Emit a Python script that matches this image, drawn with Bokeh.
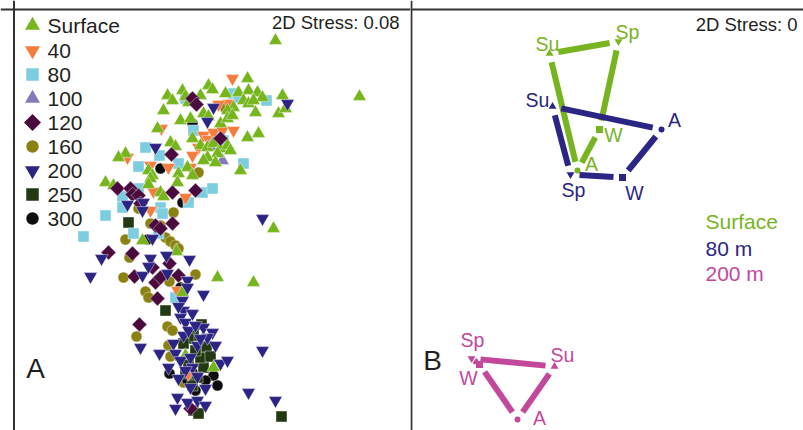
import numpy as np
from bokeh.plotting import figure
from bokeh.layouts import row
from bokeh.models import Range1d, Span, Label
from bokeh.core.properties import value
from bokeh.embed import file_html
from bokeh.resources import INLINE

# ---------------- Panel A data: NMDS coordinates of samples by depth ----------------
surface_x = [275, 359, 247, 208, 212, 167, 182, 185, 200, 225, 238, 248, 257, 262, 243, 248, 253, 233, 227, 282,
             278, 285, 255, 163, 180, 190, 203, 208, 220, 227, 232, 157, 247, 258, 170, 175, 192, 200, 207, 213,
             220, 227, 230, 217, 207, 203, 215, 240, 187, 192, 148, 152, 125, 118, 105, 113, 160, 163, 178, 177,
             150, 148, 273, 142, 176, 217, 253, 182, 213, 185, 172, 188]
surface_y = [40, 96, 78, 85, 89, 95, 90, 96, 95, 93, 92, 90, 92, 97, 100, 103, 100, 107, 110, 95,
             113, 108, 112, 110, 120, 118, 113, 116, 123, 118, 115, 128, 137, 133, 142, 146, 138, 145, 147, 143,
             148, 145, 150, 153, 157, 160, 162, 170, 167, 175, 170, 175, 153, 157, 182, 185, 192, 196, 173, 182,
             178, 184, 228, 240, 251, 277, 282, 292, 367, 355, 100, 102]

d40_x = [232, 228, 218, 161, 203, 208, 213, 222, 233, 198, 192, 150, 168, 190, 153, 150, 127, 185, 177, 188]
d40_y = [78, 103, 104, 128, 135, 139, 132, 130, 130, 147, 155, 165, 167, 167, 191, 210, 157, 197, 290, 373]

d80_x = [233, 266, 185, 238, 193, 145, 159, 138, 178, 243, 138, 122, 122, 160, 162, 188, 202, 212, 105, 133,
         158, 83, 223, 175]
d80_y = [93, 100, 98, 97, 130, 147, 155, 166, 163, 163, 188, 196, 207, 207, 213, 202, 192, 188, 215, 233,
         233, 236, 140, 297]

d100_x = [222, 210]
d100_y = [160, 146]

d120_x = [192, 196, 220, 171, 117, 130, 132, 138, 172, 195, 140, 172, 155, 160, 108, 132, 169, 134, 155, 160,
          178, 157, 139, 152, 190]
d120_y = [98, 104, 138, 154, 188, 188, 194, 195, 192, 190, 203, 223, 225, 228, 252, 253, 263, 276, 282, 277,
          275, 298, 324, 267, 408]

d160_x = [225, 198, 173, 138, 150, 125, 165, 170, 175, 178, 129, 123, 145, 148, 169, 195, 167, 172, 136, 168,
          170, 183, 160]
d160_y = [108, 172, 212, 208, 223, 239, 237, 241, 245, 248, 257, 277, 291, 297, 281, 274, 326, 330, 336, 345,
          356, 382, 225]

d200_x = [213, 207, 287, 155, 262, 127, 143, 142, 152, 101, 150, 166, 189, 90, 142, 148, 167, 187, 187, 203,
          182, 183, 180, 185, 192, 178, 140, 159, 168, 173, 183, 188, 203, 212, 215, 207, 197, 175, 180, 190,
          192, 220, 227, 197, 190, 205, 177, 175, 187, 197, 205, 248, 275, 262, 185, 178, 200, 195]
d200_y = [107, 121, 103, 147, 218, 204, 202, 210, 238, 258, 258, 255, 259, 276, 275, 266, 273, 280, 287, 294,
          300, 310, 317, 322, 313, 306, 347, 353, 367, 343, 335, 330, 327, 332, 345, 337, 345, 353, 360, 357,
          367, 363, 360, 376, 387, 388, 397, 408, 402, 400, 405, 392, 400, 350, 370, 378, 338, 325]

d250_x = [128, 165, 201, 193, 188, 183, 203, 197, 192, 193, 198, 281, 185, 200, 206, 210, 195, 188]
d250_y = [222, 310, 324, 335, 338, 343, 367, 377, 385, 410, 413, 416, 373, 357, 346, 356, 350, 362]

d300_x = [192, 160, 182, 147, 203, 169, 213, 217, 195, 205, 187, 180, 192, 200]
d300_y = [123, 168, 202, 239, 350, 373, 375, 385, 390, 380, 380, 287, 372, 362]

depth_labels = ["Surface", "40", "80", "100", "120", "160", "200", "250", "300"]
stress_a = "2D Stress: 0.08"

# ---------------- Panel B data: seasonal centroids per depth ----------------
seasons = ["Su", "A", "W", "Sp"]          # seasonal cycle order
surf_b_x = [549, 577, 599, 618]
surf_b_y = [53, 170, 129, 41]
m80_b_x = [552, 661, 622, 570]
m80_b_y = [106, 129, 177, 174]
m200_b_x = [554, 517, 479, 471]
m200_b_y = [366, 419, 364, 358]
depth_b_labels = ["Surface", "80 m", "200 m"]
stress_b = "2D Stress: 0"

# ---------------- styles ----------------
FONT = "Liberation Sans"
TXT = "#231f20"
style = {
    "Surface": dict(marker="triangle", color="#76b51b", size=13.5, angle=0),
    "40": dict(marker="inverted_triangle", color="#f47c3c", size=13.5, angle=0),
    "80": dict(marker="square", color="#7dcde0", size=11, angle=0),
    "100": dict(marker="triangle", color="#8579bc", size=13.5, angle=0),
    "120": dict(marker="square", color="#4b0a3e", size=10.5, angle=np.pi / 4),
    "160": dict(marker="circle", color="#8b8112", size=11, angle=0),
    "200": dict(marker="inverted_triangle", color="#2c2484", size=13.5, angle=0),
    "250": dict(marker="square", color="#223912", size=11, angle=0),
    "300": dict(marker="circle", color="#0d0d0d", size=11, angle=0),
}
data_a = {
    "Surface": (surface_x, surface_y), "40": (d40_x, d40_y), "80": (d80_x, d80_y),
    "100": (d100_x, d100_y), "120": (d120_x, d120_y), "160": (d160_x, d160_y),
    "200": (d200_x, d200_y), "250": (d250_x, d250_y), "300": (d300_x, d300_y),
}
draw_order = ["160", "300", "250", "80", "40", "100", "Surface", "120", "200"]

H = 430
pA = figure(width=410, height=H, x_range=Range1d(0, 410), y_range=Range1d(430, 0),
            output_backend="svg", toolbar_location=None, x_axis_location=None, y_axis_location=None,
            min_border=0, outline_line_color=None)
pB = figure(width=393, height=H, x_range=Range1d(410, 803), y_range=Range1d(430, 0),
            output_backend="svg", toolbar_location=None, x_axis_location=None, y_axis_location=None,
            min_border=0, outline_line_color=None)
for p in (pA, pB):
    p.grid.visible = False
    p.background_fill_color = "white"
    p.border_fill_color = "white"

# frame lines
pA.add_layout(Span(location=13.5, dimension="height", line_color="#333333", line_width=2))
pA.add_layout(Span(location=9, dimension="width", line_color="#333333", line_width=2))
pB.add_layout(Span(location=9, dimension="width", line_color="#333333", line_width=2))
pB.add_layout(Span(location=410.9, dimension="height", line_color="#333333", line_width=2))

# scatter
for g in draw_order:
    s = style[g]
    xs, ys = data_a[g]
    pA.scatter(xs, ys, marker=s["marker"], size=s["size"], angle=s["angle"],
               fill_color=s["color"], line_color="white", line_width=0.6, line_alpha=0.7)

# legend A
leg_x = 32
leg_y = [25] + [50 + 24 * i for i in range(len(depth_labels) - 1)]
for lab, ly in zip(depth_labels, leg_y):
    s = style[lab]
    pA.scatter([leg_x], [ly], marker=s["marker"], size=s["size"] + 1.5, angle=s["angle"],
               fill_color=s["color"], line_color=None)
pA.text(x=[leg_x + 15] * len(depth_labels), y=leg_y, text=depth_labels,
        text_font=value(FONT), text_font_size=value("21px"), text_color=TXT,
        text_align="left", text_baseline="middle")

pA.add_layout(Label(x=399, y=22, text=stress_a, text_align="right", text_baseline="middle",
                    text_font=FONT, text_font_size="18.5px", text_color=TXT))
pA.add_layout(Label(x=35, y=368, text="A", text_align="center", text_baseline="middle",
                    text_font=FONT, text_font_size="28px", text_color=TXT))

# Panel B
b_sets = [
    (surf_b_x, surf_b_y, "#77b41f", [(-2, -10), (14, -7), (14, 5), (9, -10)]),
    (m80_b_x, m80_b_y, "#2b2684", [(-15, -7), (13, -10), (12, 15), (3, 15)]),
    (m200_b_x, m200_b_y, "#c2489b", [(8, -12), (22, -2), (-11, 13), (1, -19)]),
]
season_marker = {"Su": ("triangle", 8), "A": ("circle", 6), "W": ("square", 7), "Sp": ("inverted_triangle", 8)}

for xs, ys, col, offs in b_sets:
    xs = np.asarray(xs, float)
    ys = np.asarray(ys, float)
    n = len(xs)
    x0, y0, x1, y1 = [], [], [], []
    for i in range(n):
        ax, ay, bx, by = xs[i], ys[i], xs[(i + 1) % n], ys[(i + 1) % n]
        d = np.hypot(bx - ax, by - ay)
        g = min(9.0, 0.35 * d)
        ux, uy = (bx - ax) / d, (by - ay) / d
        x0.append(ax + ux * g); y0.append(ay + uy * g)
        x1.append(bx - ux * g); y1.append(by - uy * g)
    pB.segment(x0, y0, x1, y1, line_color=col, line_width=6, line_cap="butt")
    for k, sname in enumerate(seasons):
        m, sz = season_marker[sname]
        pB.scatter([xs[k]], [ys[k]], marker=m, size=sz, fill_color=col, line_color=None)
    pB.text(x=[xs[k] + offs[k][0] for k in range(n)], y=[ys[k] + offs[k][1] for k in range(n)],
            text=seasons, text_font=value(FONT), text_font_size=value("19.5px"), text_color=col,
            text_align="center", text_baseline="middle")

pB.text(x=[705] * 3, y=[221, 248, 273], text=depth_b_labels,
        text_color=["#77b41f", "#2b2684", "#c2489b"], text_font=value(FONT),
        text_font_size=value("21px"), text_align="left", text_baseline="middle")

pB.add_layout(Label(x=797, y=24, text=stress_b, text_align="right", text_baseline="middle",
                    text_font=FONT, text_font_size="18.5px", text_color=TXT))
pB.add_layout(Label(x=432, y=360, text="B", text_align="center", text_baseline="middle",
                    text_font=FONT, text_font_size="28px", text_color=TXT))

layout = row(pA, pB, spacing=0)
open("out.html", "w").write(file_html(layout, INLINE))
